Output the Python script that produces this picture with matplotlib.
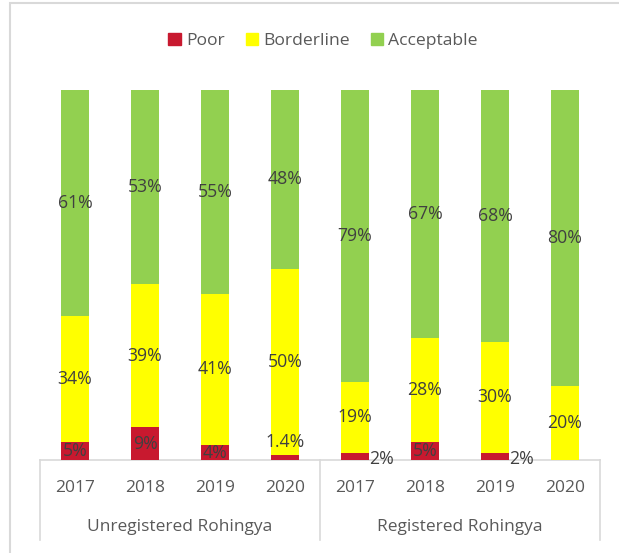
import matplotlib.pyplot as plt
import matplotlib.patches as mpatches
import numpy as np

plt.rcParams["font.family"] = ["Open Sans", "DejaVu Sans"]

years = ["2017", "2018", "2019", "2020", "2017", "2018", "2019", "2020"]
groups = ["Unregistered Rohingya", "Registered Rohingya"]
series = ["Poor", "Borderline", "Acceptable"]

poor = [5, 9, 4, 1.4, 2, 5, 2, 0]
borderline = [34, 39, 41, 50, 19, 28, 30, 20]
acceptable = [61, 53, 55, 48, 79, 67, 68, 80]

poor_labels = ["5%", "9%", "4%", "1.4%", "2%", "5%", "2%", ""]
borderline_labels = ["34%", "39%", "41%", "50%", "19%", "28%", "30%", "20%"]
acceptable_labels = ["61%", "53%", "55%", "48%", "79%", "67%", "68%", "80%"]

COLORS = ["#C8192F", "#FFFF00", "#92D050"]
TEXT = "#404040"
AXIS_TEXT = "#595959"
GRID = "#D9D9D9"

# label nudges in points (x, y) for the tiny segments
NUDGE = {(0, 3): (0, 11), (0, 4): (19, -2), (0, 6): (19, -2)}

W, H = 619, 553
fig = plt.figure(figsize=(W / 100, H / 100), dpi=100)
ax = fig.add_axes([40 / W, (H - 460) / H, 560 / W, 370 / H])

vals = np.array([poor, borderline, acceptable], dtype=float)
vals = vals / vals.sum(axis=0) * 100  # 100% stacked
labels = [poor_labels, borderline_labels, acceptable_labels]
x = np.arange(len(years))

bottom = np.zeros(len(years))
for si, name in enumerate(series):
    ax.bar(x, vals[si], bottom=bottom, width=0.4, color=COLORS[si],
           label=name, zorder=3)
    for i in range(len(years)):
        if not labels[si][i]:
            continue
        dx, dy = NUDGE.get((si, i), (0, 0))
        ax.annotate(labels[si][i], (x[i], bottom[i] + vals[si][i] / 2),
                    xytext=(dx, dy), textcoords="offset points",
                    ha="center", va="center", fontsize=12.7, color=TEXT,
                    zorder=5)
    bottom += vals[si]

ax.set_xlim(-0.5, len(years) - 0.5)
ax.set_ylim(0, 100)
ax.axis("off")

# multi-level category axis
ax.plot([-0.5, 7.5], [0, 0], color=GRID, lw=1.2, clip_on=False, zorder=2)
for xv in [-0.5, 3.5, 7.5]:
    ax.plot([xv, xv], [0, -21.6], color=GRID, lw=1.2, clip_on=False)
for i, yr in enumerate(years):
    ax.text(x[i], -7.5, yr, ha="center", va="center", fontsize=12.5,
            color=AXIS_TEXT)
for gi, g in enumerate(groups):
    ax.text(1.5 + 4 * gi, -18, g, ha="center", va="center", fontsize=12.5,
            color=AXIS_TEXT)

handles = [mpatches.Patch(color=c, label=s) for c, s in zip(COLORS, series)]
leg = fig.legend(handles=handles, loc="center", bbox_to_anchor=(323 / W, 1 - 41 / H),
                 ncol=3, frameon=False, fontsize=12.6, handlelength=0.7,
                 handleheight=0.7, handletextpad=0.3, columnspacing=1.2)
for t in leg.get_texts():
    t.set_color(AXIS_TEXT)

# chart frame
fig.patches.append(mpatches.Rectangle((10 / W, -0.1), 1.2, 1 - 3 / H + 0.1,
                                      transform=fig.transFigure, fill=False,
                                      edgecolor=GRID, lw=1.5))

fig.savefig("out.png", dpi=100)
